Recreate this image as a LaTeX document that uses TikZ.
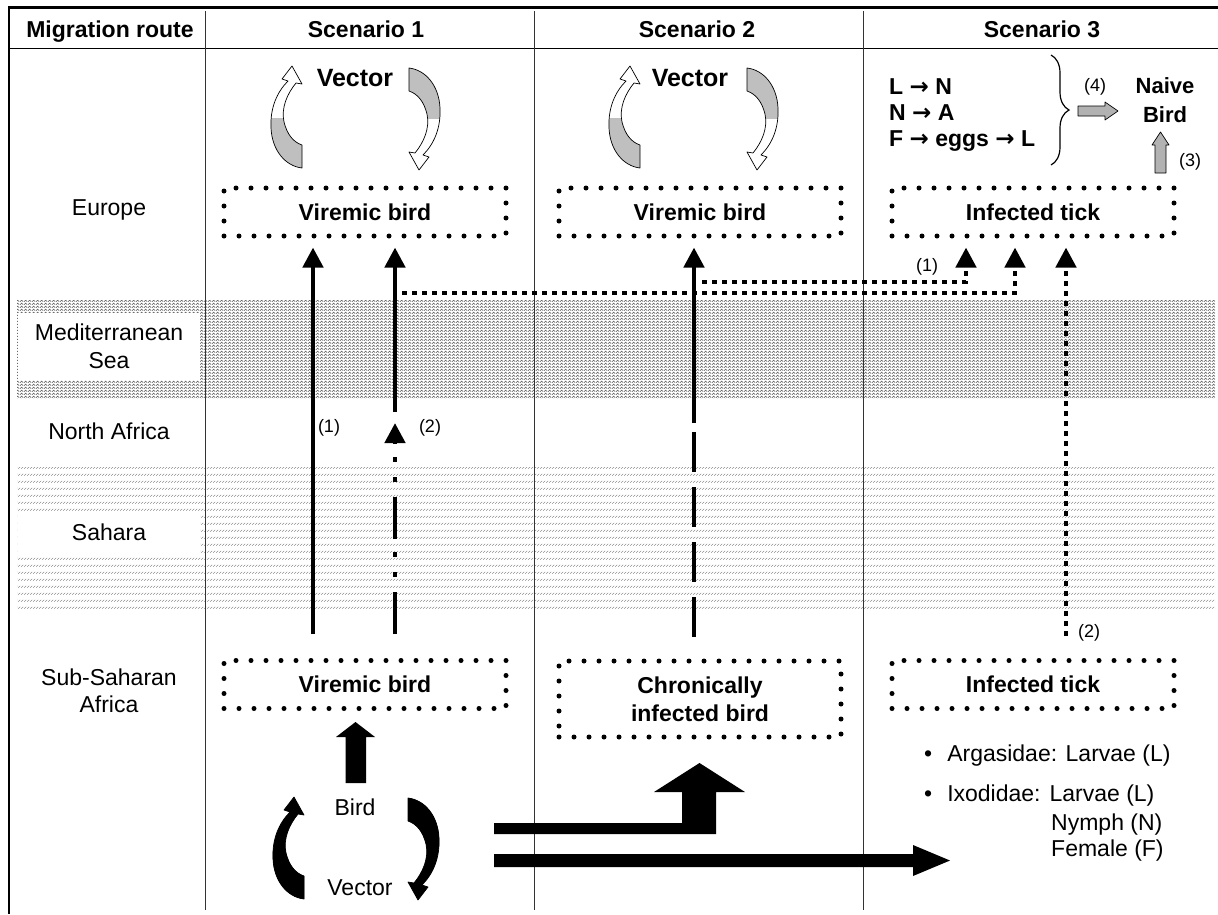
\documentclass[tikz,border=0pt]{standalone}
\usepackage{fontspec}
\setmainfont{Liberation Sans}
\newfontfamily\arrowfont{DejaVu Sans}
\usetikzlibrary{arrows.meta,patterns,decorations.pathreplacing}

\pgfdeclarepatternformonly{seazig}{\pgfqpoint{0pt}{0pt}}{\pgfqpoint{4pt}{3pt}}{\pgfqpoint{4pt}{3pt}}{%
	\pgfsetlinewidth{0.7pt}
	\pgfpathmoveto{\pgfqpoint{0pt}{0.5pt}}
	\pgfpathlineto{\pgfqpoint{2pt}{2.5pt}}
	\pgfpathlineto{\pgfqpoint{4pt}{0.5pt}}
	\pgfusepath{stroke}}
\pgfdeclarepatternformonly{sandticks}{\pgfqpoint{0pt}{0pt}}{\pgfqpoint{3pt}{6.5pt}}{\pgfqpoint{3pt}{6.5pt}}{%
	\pgfsetlinewidth{0.5pt}
	\pgfpathmoveto{\pgfqpoint{0pt}{0.3pt}}
	\pgfpathlineto{\pgfqpoint{3pt}{2.3pt}}
	\pgfusepath{stroke}}

\def\swirl{(21,0) -- (31,18) -- (25,17) .. controls (16,28) and (10,42) .. (13,56) .. controls (16,68) and (22,76) .. (31,79) -- (31,102) .. controls (14,100) and (1,84) .. (0,62) .. controls (-1,42) and (6,26) .. (17,15) -- (11,13) -- cycle}
\def\ra{{\arrowfont\bfseries →}}

\tikzset{
	pics/swirl/.style 2 args={code={
		\fill[#2] \swirl;
		\begin{scope}
			\clip (-4,52) rectangle (36,106);
			\fill[#1] \swirl;
		\end{scope}
		\draw[line width=0.7pt, line join=round] \swirl;
	}},
	site/.style={draw, line width=5pt, line cap=round, dash pattern=on 0pt off 15pt, minimum width=282pt, minimum height=48pt, align=center, font=\bfseries\fontsize{23}{28}\selectfont},
	place/.style={inner sep=0pt, align=center, font=\fontsize{23}{27}\selectfont},
	head/.style={anchor=base, font=\bfseries\fontsize{23}{27}\selectfont},
	note/.style={inner sep=0pt, font=\fontsize{18}{20}\selectfont},
	flow/.style={line width=4.5pt, -{Triangle[width=20pt,length=20pt]}, shorten >=9pt},
	tickflow/.style={flow, dash pattern=on 5pt off 5pt},
}

\begin{document}
\begin{tikzpicture}[x=1pt, y=-1pt]
	%%%%% START %%%%%
	\useasboundingbox (0,0) rectangle (1218,914);
	
	\fill[pattern=seazig, pattern color=black!65] (17,300) rectangle (1215,398);
	\fill[pattern=sandticks, pattern color=black!45] (17,467) rectangle (1215,612);
	
	\draw[line width=3pt] (8,7) -- (1218,7);
	\draw[line width=2.5pt] (9,7) -- (9,914);
	\draw[line width=1pt] (10,48) -- (1218,48);
	\foreach \x in {205,534,863}
		\draw[line width=1pt, black!80] (\x,11) -- (\x,910);
	
	\node[head] (route) at (110,37) {Migration route};
	\node[head] (sc1) at (366,37) {Scenario 1};
	\node[head] (sc2) at (697,37) {Scenario 2};
	\node[head] (sc3) at (1042,37) {Scenario 3};
	
	\node[place, anchor=base] (europe) at (109,215) {Europe};
	\node[place, fill=white, minimum width=182pt, minimum height=67pt, font=\fontsize{23}{28}\selectfont] (med) at (109,346) {Mediterranean\\Sea};
	\node[place, anchor=base] (nafr) at (109,439) {North Africa};
	\node[place, fill=white, minimum width=182pt, minimum height=42pt] (sahara) at (109,532) {Sahara};
	\node[place, anchor=north] (ssa) at (109,669) {Sub-Saharan\\Africa};
	
	\node[site] (eu1) at (365,212) {Viremic bird};
	\node[site] (eu2) at (700,212) {Viremic bird};
	\node[site] (eu3) at (1033,212) {Infected tick};
	\node[site] (ss1) at (365,684.5) {Viremic bird};
	\node[site, minimum height=76pt] (ss2) at (700,699) {Chronically\\infected bird};
	\node[site] (ss3) at (1033,684.5) {Infected tick};
	
	% vector cycles
	\node[anchor=base, font=\bfseries\fontsize{25}{28}\selectfont] (vec1) at (355,86) {Vector};
	\node[anchor=base, font=\bfseries\fontsize{25}{28}\selectfont] (vec2) at (690,86) {Vector};
	\pic at (271,66) {swirl={black!25}{white}};
	\pic[rotate=180] at (440,170) {swirl={black!25}{white}};
	\pic at (609,66) {swirl={black!25}{white}};
	\pic[rotate=180] at (778,170) {swirl={black!25}{white}};
	
	\node[place, anchor=base] (bird) at (355,815) {Bird};
	\node[place, anchor=base] (vec0) at (360,895) {Vector};
	\pic at (273,797) {swirl={black}{black}};
	\pic[rotate=180] at (439,900) {swirl={black}{black}};
	\fill (345.5,783) -- (345.5,737) -- (336,737) -- (355.5,722) -- (375,737) -- (366,737) -- (366,783) -- cycle;
	
	\fill (494,823) -- (682,823) -- (682,792) -- (654,792) -- (699.5,763) -- (745,792) -- (716,792) -- (716,834) -- (494,834) -- cycle;
	\fill (494,854) -- (913,854) -- (913,845) -- (950,860.5) -- (913,876) -- (913,867) -- (494,867) -- cycle;
	
	% scenario 3 tick stages
	\node[anchor=north west, inner sep=0pt, align=left, font=\bfseries\fontsize{23}{26}\selectfont] (stages) at (889,78.5) {L \ra{} N\\N \ra{} A\\F \ra{} eggs \ra{} L};
	\draw[decorate, decoration={brace, amplitude=18pt}, line width=1.2pt] (1051,55) -- (1051,165);
	\node[note] (n4) at (1095,87) {(4)};
	\node[anchor=north, inner sep=0pt, align=center, font=\bfseries\fontsize{22}{29}\selectfont] (naive) at (1165,77) {Naive\\Bird};
	\draw[fill=black!30, line width=0.7pt, line join=round] (1078,106) -- (1105,106) -- (1105,102) -- (1118,111) -- (1105,120) -- (1105,116) -- (1078,116) -- cycle;
	\draw[fill=black!30, line width=0.7pt, line join=round] (1155,173) -- (1155,145) -- (1152,145) -- (1160.5,132) -- (1169,145) -- (1166,145) -- (1166,173) -- cycle;
	\node[note] (n3) at (1190,162) {(3)};
	
	\node[place, anchor=base west] (arg) at (924,761) {\textbullet\hspace{15pt}Argasidae: Larvae (L)};
	\node[place, anchor=base west] (ixo) at (924,801) {\textbullet\hspace{15pt}Ixodidae:\hspace{9pt}Larvae (L)};
	\node[place, anchor=base west] (nym) at (1051,830) {Nymph (N)};
	\node[place, anchor=base west] (fem) at (1051,856) {Female (F)};
	
	% routes
	\coordinate (r1) at (313,0);
	\coordinate (stop1) at (395,412);
	\coordinate (rest1) at (395,423);
	\coordinate (kink2) at (694,423);
	\coordinate (d1) at (702,282);
	\coordinate (t1) at (966,0);
	\coordinate (d2) at (402,293);
	\coordinate (t2) at (1015,0);
	\coordinate (t3) at (1066,0);
	
	\draw[tickflow] (d2) -| (eu3.south -| t2);
	\draw[tickflow] (d1) -| (eu3.south -| t1);
	\draw[tickflow, shorten <=22pt] (ss3.north -| t3) -- (eu3.south -| t3);
	
	\draw[flow, shorten <=24pt] (ss1.north -| r1) -- (eu1.south -| r1);
	\draw[flow] (stop1) -- (eu1.south -| stop1);
	\draw[flow, shorten <=24pt, shorten >=0pt, dash pattern=on 42pt off 15pt on 5pt off 15pt on 5pt off 13pt] (ss1.north -| rest1) -- (rest1);
	\draw[flow] (kink2) -- (eu2.south -| kink2);
	\draw[line width=4.5pt, dash pattern=on 40pt off 15pt, shorten <=22pt] (ss2.north -| kink2) -- (kink2);
	
	\node[note] (l1) at (329,428) {(1)};
	\node[note] (l2) at (430,428) {(2)};
	\node[note] (l3) at (927,267) {(1)};
	\node[note] (l4) at (1089,633) {(2)};
	%%%%% END %%%%%
\end{tikzpicture}
\end{document}
